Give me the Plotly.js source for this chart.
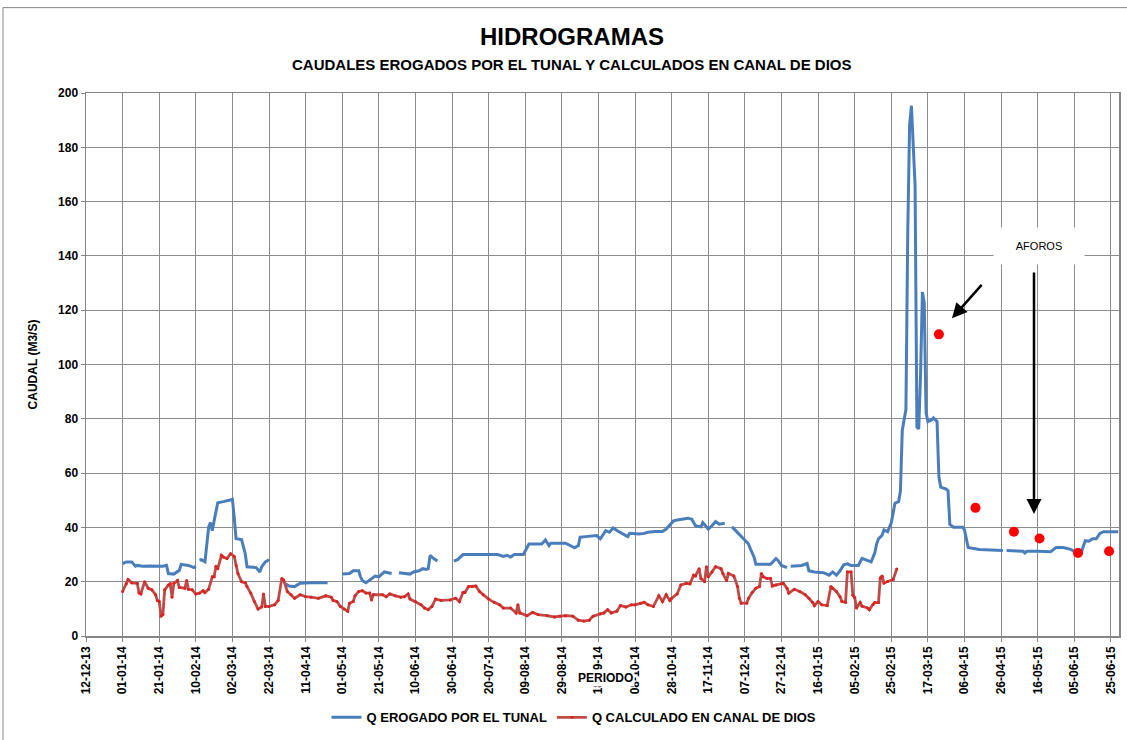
<!DOCTYPE html>
<html>
<head>
<meta charset="utf-8">
<script src="https://cdn.plot.ly/plotly-3.0.1.min.js"></script>
<style>html,body{margin:0;padding:0;background:#fff;}#chart{width:1127px;height:740px;}</style>
</head>
<body>
<div id="chart"></div>
<script>
// Q EROGADO POR EL TUNAL (blue), null = gap in record
const tunalDates = ['2014-01-01','2014-01-03','2014-01-06','2014-01-08','2014-01-09','2014-01-12','2014-01-16','2014-01-20','2014-01-23','2014-01-25','2014-01-26','2014-01-29','2014-02-01','2014-02-02','2014-02-06','2014-02-09','2014-02-10','2014-02-11','2014-02-12','2014-02-13','2014-02-15','2014-02-17','2014-02-18','2014-02-19','2014-02-20','2014-02-22','2014-02-25','2014-02-28','2014-03-02','2014-03-03','2014-03-04','2014-03-07','2014-03-09','2014-03-10','2014-03-15','2014-03-17','2014-03-18','2014-03-20','2014-03-22','2014-03-26','2014-03-31','2014-04-02','2014-04-05','2014-04-08','2014-04-14','2014-04-23','2014-04-27','2014-05-01','2014-05-03','2014-05-05','2014-05-07','2014-05-10','2014-05-11','2014-05-12','2014-05-14','2014-05-17','2014-05-19','2014-05-21','2014-05-24','2014-05-26','2014-05-28','2014-05-30','2014-06-01','2014-06-04','2014-06-07','2014-06-09','2014-06-12','2014-06-14','2014-06-16','2014-06-17','2014-06-18','2014-06-20','2014-06-22','2014-06-26','2014-07-01','2014-07-03','2014-07-06','2014-07-16','2014-07-25','2014-07-28','2014-07-30','2014-08-01','2014-08-03','2014-08-08','2014-08-11','2014-08-18','2014-08-20','2014-08-22','2014-08-23','2014-08-31','2014-09-03','2014-09-05','2014-09-07','2014-09-08','2014-09-11','2014-09-17','2014-09-19','2014-09-22','2014-09-24','2014-09-26','2014-09-29','2014-10-02','2014-10-04','2014-10-05','2014-10-10','2014-10-13','2014-10-15','2014-10-19','2014-10-23','2014-10-25','2014-10-27','2014-10-29','2014-10-31','2014-11-03','2014-11-06','2014-11-08','2014-11-10','2014-11-13','2014-11-14','2014-11-17','2014-11-19','2014-11-21','2014-11-23','2014-11-26','2014-11-28','2014-11-30','2014-12-02','2014-12-05','2014-12-07','2014-12-09','2014-12-10','2014-12-12','2014-12-13','2014-12-21','2014-12-24','2014-12-25','2014-12-27','2014-12-30','2014-12-31','2015-01-01','2015-01-07','2015-01-10','2015-01-11','2015-01-14','2015-01-19','2015-01-22','2015-01-24','2015-01-26','2015-01-28','2015-01-30','2015-02-01','2015-02-03','2015-02-07','2015-02-09','2015-02-12','2015-02-14','2015-02-16','2015-02-17','2015-02-18','2015-02-20','2015-02-21','2015-02-23','2015-02-25','2015-02-26','2015-02-27','2015-03-01','2015-03-02','2015-03-03','2015-03-04','2015-03-05','2015-03-06','2015-03-07','2015-03-08','2015-03-09','2015-03-10','2015-03-11','2015-03-12','2015-03-13','2015-03-14','2015-03-15','2015-03-16','2015-03-17','2015-03-19','2015-03-20','2015-03-22','2015-03-23','2015-03-24','2015-03-27','2015-03-28','2015-03-29','2015-03-31','2015-04-05','2015-04-06','2015-04-07','2015-04-08','2015-04-14','2015-04-27','2015-04-28','2015-04-29','2015-05-08','2015-05-09','2015-05-10','2015-05-16','2015-05-23','2015-05-26','2015-05-30','2015-06-03','2015-06-05','2015-06-09','2015-06-11','2015-06-13','2015-06-15','2015-06-17','2015-06-19','2015-06-21','2015-06-29'];
const tunalQ = [26.7,27.3,27.3,25.7,26.0,25.7,25.8,25.6,25.7,26.0,23.0,22.8,24.2,26.4,26.0,25.2,25.7,null,27.9,28.1,27.3,40.0,41.8,38.8,42.4,49.1,49.5,50.0,50.3,43.6,35.8,35.5,30.3,25.5,25.2,23.6,25.5,27.3,28.1,null,19.2,18.4,18.2,19.4,19.6,19.6,null,22.8,23.0,23.0,24.0,24.0,21.8,20.4,19.6,21.2,22.1,21.8,23.6,23.3,23.0,null,23.3,23.0,22.8,23.6,24.0,24.8,24.5,24.8,29.7,28.5,27.6,null,27.6,28.1,30.0,30.0,30.0,29.3,29.7,29.1,30.0,30.0,33.9,33.9,35.4,33.3,34.2,34.2,33.3,32.5,33.3,36.4,36.6,37.0,35.8,38.8,38.2,39.8,38.5,37.3,36.6,37.8,37.6,37.8,38.2,38.5,38.5,39.4,40.8,42.4,42.7,43.0,43.4,43.0,40.6,40.2,41.8,39.4,40.6,42.2,41.2,41.5,null,40.2,38.8,37.0,35.2,33.9,32.1,29.1,26.4,26.4,28.5,27.9,26.0,25.2,null,25.7,26.0,26.7,24.0,23.6,23.3,22.4,23.6,22.4,24.0,26.2,26.6,26.0,26.0,28.6,27.9,27.3,30.6,33.9,35.8,37.1,39.1,38.4,41.7,45.0,48.9,49.5,53.5,75.7,79.6,83.5,148.9,188.1,195.3,181.6,165.9,77.0,76.3,96.6,126.7,122.7,82.2,79.0,79.6,80.3,79.0,58.7,54.8,54.1,53.5,41.1,40.1,40.1,39.1,35.8,32.6,31.9,31.5,null,31.5,31.2,30.6,31.2,31.2,31.0,32.6,32.6,31.9,31.2,31.2,35.1,34.9,35.8,35.8,37.8,38.4,38.4];

// Q CALCULADO EN CANAL DE DIOS (red)
const canalDates = ['2014-01-01','2014-01-03','2014-01-04','2014-01-06','2014-01-09','2014-01-10','2014-01-11','2014-01-13','2014-01-15','2014-01-17','2014-01-19','2014-01-20','2014-01-21','2014-01-22','2014-01-23','2014-01-24','2014-01-26','2014-01-27','2014-01-28','2014-01-29','2014-01-31','2014-02-01','2014-02-04','2014-02-05','2014-02-06','2014-02-08','2014-02-10','2014-02-12','2014-02-14','2014-02-15','2014-02-17','2014-02-19','2014-02-20','2014-02-21','2014-02-22','2014-02-24','2014-02-25','2014-02-27','2014-03-01','2014-03-03','2014-03-04','2014-03-05','2014-03-07','2014-03-09','2014-03-10','2014-03-12','2014-03-14','2014-03-16','2014-03-18','2014-03-19','2014-03-20','2014-03-22','2014-03-25','2014-03-27','2014-03-29','2014-03-30','2014-04-01','2014-04-03','2014-04-05','2014-04-08','2014-04-11','2014-04-14','2014-04-18','2014-04-22','2014-04-25','2014-04-26','2014-04-28','2014-04-30','2014-05-02','2014-05-04','2014-05-05','2014-05-07','2014-05-08','2014-05-10','2014-05-12','2014-05-14','2014-05-16','2014-05-17','2014-05-18','2014-05-23','2014-05-25','2014-05-27','2014-05-30','2014-06-02','2014-06-04','2014-06-06','2014-06-07','2014-06-10','2014-06-13','2014-06-15','2014-06-17','2014-06-19','2014-06-21','2014-06-24','2014-06-29','2014-07-02','2014-07-04','2014-07-06','2014-07-07','2014-07-09','2014-07-11','2014-07-13','2014-07-15','2014-07-17','2014-07-20','2014-07-23','2014-07-26','2014-07-28','2014-08-01','2014-08-04','2014-08-05','2014-08-06','2014-08-10','2014-08-13','2014-08-16','2014-08-21','2014-08-25','2014-08-28','2014-08-31','2014-09-04','2014-09-07','2014-09-10','2014-09-13','2014-09-15','2014-09-19','2014-09-21','2014-09-23','2014-09-25','2014-09-28','2014-09-30','2014-10-03','2014-10-06','2014-10-08','2014-10-11','2014-10-13','2014-10-15','2014-10-18','2014-10-21','2014-10-23','2014-10-25','2014-10-27','2014-10-28','2014-10-31','2014-11-02','2014-11-05','2014-11-07','2014-11-09','2014-11-10','2014-11-12','2014-11-13','2014-11-15','2014-11-16','2014-11-17','2014-11-19','2014-11-21','2014-11-24','2014-11-25','2014-11-27','2014-11-28','2014-12-01','2014-12-03','2014-12-04','2014-12-05','2014-12-08','2014-12-09','2014-12-11','2014-12-13','2014-12-15','2014-12-16','2014-12-17','2014-12-19','2014-12-21','2014-12-22','2014-12-24','2014-12-27','2014-12-28','2014-12-30','2014-12-31','2015-01-03','2015-01-06','2015-01-09','2015-01-11','2015-01-13','2015-01-14','2015-01-16','2015-01-18','2015-01-21','2015-01-23','2015-01-24','2015-01-26','2015-01-28','2015-01-29','2015-01-31','2015-02-01','2015-02-03','2015-02-04','2015-02-05','2015-02-06','2015-02-08','2015-02-09','2015-02-12','2015-02-13','2015-02-15','2015-02-16','2015-02-18','2015-02-19','2015-02-20','2015-02-21','2015-02-23','2015-02-26','2015-02-28'];
const canalQ = [16.4,19.2,20.8,19.6,19.4,15.8,15.5,20.0,17.6,17.0,15.2,13.1,12.7,7.3,7.9,17.0,18.8,19.2,14.3,19.4,20.4,17.9,17.6,20.4,17.2,17.0,15.5,15.8,16.7,16.0,17.2,21.8,21.8,25.7,24.8,29.7,29.1,28.5,30.3,29.3,26.0,23.0,20.0,19.6,18.2,15.8,12.7,9.9,10.7,15.5,10.9,10.9,11.5,13.1,21.2,20.6,16.4,15.2,13.9,15.2,14.5,14.3,13.9,14.8,14.3,13.1,12.7,10.9,9.9,9.1,12.1,12.7,14.8,16.4,16.7,15.8,15.8,13.3,15.2,15.2,14.5,15.5,14.8,14.3,14.5,15.5,13.6,12.7,11.5,10.3,9.7,10.9,13.6,13.1,13.3,13.9,12.7,16.0,16.0,18.2,18.2,18.4,16.4,15.2,13.6,12.4,11.5,10.3,10.3,8.5,11.5,8.5,7.5,8.7,7.9,7.5,7.0,7.3,7.5,7.3,5.8,5.5,5.8,7.3,8.2,8.5,9.7,8.5,9.1,11.2,10.7,11.5,11.5,12.1,12.4,11.5,10.9,14.8,12.7,15.2,13.1,13.9,15.5,18.8,19.4,19.2,22.4,22.1,24.8,21.2,20.0,25.5,21.8,23.6,25.5,24.8,23.0,20.4,23.0,22.1,18.2,13.9,12.1,12.1,13.9,16.0,17.6,18.2,23.0,21.8,21.2,21.2,18.4,18.8,19.2,19.4,17.6,15.8,17.2,16.4,15.2,13.9,12.4,11.2,12.7,11.5,11.2,18.2,17.6,16.4,14.5,12.7,12.4,23.6,23.6,15.0,14.2,10.3,12.3,11.0,10.3,9.7,11.6,12.3,12.3,21.4,22.1,19.5,20.1,20.8,24.7];

// AFOROS (field gaugings)
const aforoDates = ['2015-03-23','2015-04-12','2015-05-03','2015-05-17','2015-06-07','2015-06-24'];
const aforoQ = [111.1,47.2,38.4,35.9,30.6,31.2];

const FONT = '"Liberation Sans", Arial, sans-serif';

const traces = [
  {x: tunalDates, y: tunalQ, type: 'scatter', mode: 'lines', name: 'Q EROGADO POR EL TUNAL',
   line: {color: '#4A7EBB', width: 3}, connectgaps: false},
  {x: canalDates, y: canalQ, type: 'scatter', mode: 'lines+markers', name: 'Q CALCULADO EN CANAL DE DIOS',
   line: {color: '#BE4B48', width: 2.8}, marker: {color: '#E0201E', size: 3}, connectgaps: false},
  {x: aforoDates, y: aforoQ, type: 'scatter', mode: 'markers', name: 'AFOROS', showlegend: false,
   marker: {color: '#FF0000', size: 10}}
];

const layout = {
  width: 1127, height: 740,
  margin: {l: 86, r: 8, t: 93, b: 100},
  paper_bgcolor: '#fff', plot_bgcolor: '#fff',
  font: {family: FONT, color: '#000'},
  showlegend: true,
  title: {
    text: '<b>HIDROGRAMAS</b>',
    font: {family: FONT, size: 24, color: '#000'},
    x: (572 / 1127), xanchor: 'center', xref: 'container',
    y: 1 - 37 / 740, yanchor: 'middle', yref: 'container'
  },
  xaxis: {
    type: 'date',
    range: ['2013-12-12', '2015-06-29 10:00'],
    tick0: '2013-12-12', dtick: 1728000000,
    tickformat: '%d-%m-%y', tickangle: -90,
    tickfont: {family: FONT, size: 12, color: '#000', weight: 'bold'},
    showgrid: true, gridcolor: '#8C8C8C', gridwidth: 1,
    showline: true, linecolor: '#868686', linewidth: 1.5, mirror: true,
    ticks: 'outside', ticklen: 4, tickcolor: '#868686',
    zeroline: false, fixedrange: true
  },
  yaxis: {
    range: [0, 200], dtick: 20,
    tickfont: {family: FONT, size: 12, color: '#000', weight: 'bold'},
    showgrid: true, gridcolor: '#8C8C8C', gridwidth: 1,
    showline: true, linecolor: '#868686', linewidth: 1.5, mirror: true,
    ticks: 'outside', ticklen: 4, tickcolor: '#868686',
    zeroline: false, fixedrange: true,
    title: {text: '<b>CAUDAL (M3/S)</b>', font: {family: FONT, size: 12, color: '#000'}, standoff: 18}
  },
  legend: {
    orientation: 'h', x: (574 - 86) / 1033, xanchor: 'center', y: (640 - 722) / 547, yanchor: 'middle',
    font: {family: FONT, size: 13, color: '#000', weight: 'bold'},
    itemwidth: 30, traceorder: 'normal', bgcolor: 'rgba(0,0,0,0)'
  },
  annotations: [
    {xref: 'paper', yref: 'paper', x: (572 - 86) / 1033, y: (640 - 64) / 547,
     xanchor: 'center', yanchor: 'middle',
     text: '<b>CAUDALES EROGADOS POR EL TUNAL Y CALCULADOS EN CANAL DE DIOS</b>', showarrow: false,
     font: {family: FONT, size: 15, color: '#000'}},
    {xref: 'paper', yref: 'paper', x: (605 - 86) / 1033, y: (640 - 682) / 547,
     xanchor: 'center', yanchor: 'middle',
     text: '<b>PERIODO</b>', showarrow: false, bgcolor: '#fff',
     font: {family: FONT, size: 12, color: '#000'}, borderpad: 1},
    {xref: 'paper', yref: 'paper', x: (1038.5 - 86) / 1033, y: (640 - 247) / 547,
     xanchor: 'center', yanchor: 'middle',
     text: 'AFOROS', showarrow: false, bgcolor: '#fff', width: 88, height: 34,
     font: {family: FONT, size: 11, color: '#000'}},
    {xref: 'paper', yref: 'paper', x: (952 - 86) / 1033, y: (640 - 320) / 547,
     ax: 31, ay: -35, text: '', showarrow: true,
     arrowhead: 2, arrowsize: 1.2, arrowwidth: 2.5, arrowcolor: '#000', standoff: 0},
    {xref: 'paper', yref: 'paper', x: (1034 - 86) / 1033, y: (640 - 517) / 547,
     ax: 0, ay: -243, text: '', showarrow: true,
     arrowhead: 2, arrowsize: 1.2, arrowwidth: 2.5, arrowcolor: '#000', standoff: 0}
  ],
  shapes: [
    {type: 'rect', xref: 'paper', yref: 'paper', x0: (3 - 86) / 1033, x1: (1140 - 86) / 1033,
     y0: (640 - 760) / 547, y1: (640 - 7) / 547, line: {color: '#868686', width: 1}, fillcolor: 'rgba(0,0,0,0)'}
  ]
};

Plotly.newPlot('chart', traces, layout, {displayModeBar: false, staticPlot: true});
</script>
</body>
</html>
